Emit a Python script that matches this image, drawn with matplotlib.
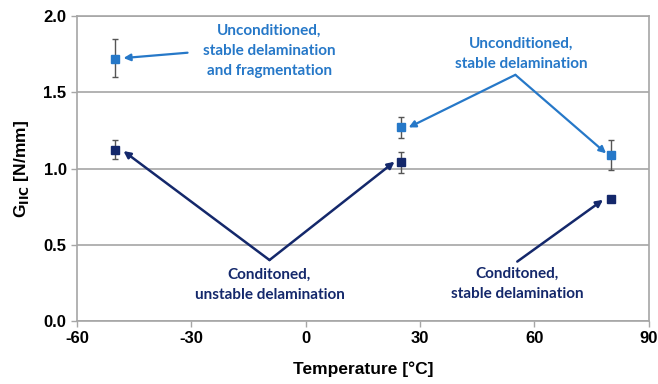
import matplotlib
matplotlib.use("Agg")
import matplotlib.pyplot as plt

# Data
temps = [-50, 25, 80]
uncond = [1.72, 1.27, 1.09]
uncond_err_lo = [0.12, 0.07, 0.10]
uncond_err_hi = [0.13, 0.07, 0.10]
cond = [1.125, 1.04, 0.80]
cond_err_lo = [0.06, 0.07, 0.02]
cond_err_hi = [0.06, 0.07, 0.02]

xticks = [-60, -30, 0, 30, 60, 90]
yticks = [0.0, 0.5, 1.0, 1.5, 2.0]

light = "#2678C8"
dark = "#14286B"
grid_c = "#A6A6A6"

fig = plt.figure(figsize=(6.58, 3.84), dpi=100)
ax = fig.add_axes([0.117, 0.164, 0.869, 0.794])
ax.set_xlim(-60, 90)
ax.set_ylim(0, 2.0)
ax.set_xticks(xticks)
ax.set_yticks(yticks)
ax.set_xticklabels([str(t) for t in xticks])
ax.set_yticklabels([f"{t:.1f}" for t in yticks])
for lab in ax.get_xticklabels() + ax.get_yticklabels():
    lab.set_fontfamily("Liberation Sans")
    lab.set_fontweight("bold")
    lab.set_fontsize(12)
ax.tick_params(axis="both", direction="out", length=4, color=grid_c, width=1)
ax.tick_params(axis="x", pad=3)
for s in ax.spines.values():
    s.set_color(grid_c)
    s.set_linewidth(1.2)
ax.yaxis.grid(True, color=grid_c, linewidth=1.2)
ax.set_axisbelow(True)

ax.errorbar(temps, uncond, yerr=[uncond_err_lo, uncond_err_hi], fmt="s", color=light,
            ms=6, ecolor="#555555", elinewidth=1, capsize=2.5, capthick=1, zorder=3)
ax.errorbar(temps, cond, yerr=[cond_err_lo, cond_err_hi], fmt="s", color=dark,
            ms=6, ecolor="#555555", elinewidth=1, capsize=2.5, capthick=1, zorder=3)

ax.set_xlabel("Temperature [°C]", fontfamily="Liberation Sans", fontweight="bold",
              fontsize=12.5, labelpad=11)
ax.set_ylabel(r"G$_{\mathbf{IIC}}$ [N/mm]", fontfamily="Liberation Sans", fontweight="bold",
              fontsize=12.5, labelpad=9)

afont = dict(fontfamily="Lato", fontweight="bold", fontsize=11, ha="center", va="center",
             linespacing=1.55)
arrow_l = dict(arrowstyle="-|>", color=light, lw=1.6, mutation_scale=10, shrinkA=0, shrinkB=0)
arrow_d = dict(arrowstyle="-|>", color=dark, lw=1.8, mutation_scale=10, shrinkA=0, shrinkB=0)

ax.text(-9.5, 1.77, "Unconditioned,\nstable delamination\nand fragmentation", color=light, **afont)
ax.annotate("", xy=(-47.8, 1.725), xytext=(-31, 1.76), arrowprops=arrow_l)

ax.text(56.5, 1.755, "Unconditioned,\nstable delamination", color=light, **afont)
ax.annotate("", xy=(27.0, 1.27), xytext=(55, 1.615), arrowprops=arrow_l)
ax.annotate("", xy=(78.8, 1.10), xytext=(55, 1.615), arrowprops=arrow_l)

ax.text(-9.5, 0.237, "Conditoned,\nunstable delamination", color=dark, **afont)
ax.annotate("", xy=(-47.8, 1.115), xytext=(-9.5, 0.40), arrowprops=arrow_d)
ax.annotate("", xy=(23.3, 1.045), xytext=(-9.5, 0.40), arrowprops=arrow_d)

ax.text(55.5, 0.243, "Conditoned,\nstable delamination", color=dark, **afont)
ax.annotate("", xy=(78.0, 0.795), xytext=(55.5, 0.39), arrowprops=arrow_d)

fig.savefig("out.png", dpi=100)
